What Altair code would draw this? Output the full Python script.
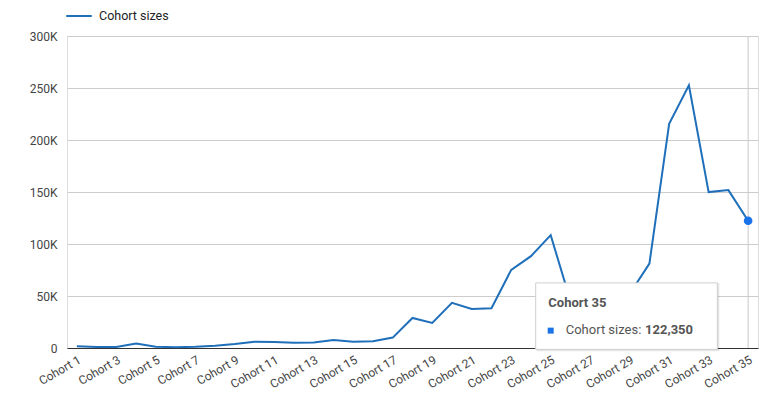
import altair as alt
import pandas as pd

# ---- data ----
cohort_index = list(range(1, 36))
cohort_labels = [f"Cohort {i}" for i in cohort_index]
cohort_sizes = [1800, 1000, 1000, 4200, 1300, 700, 1200, 2200, 3800, 6100,
                5800, 5100, 5400, 7700, 6100, 6400, 10000, 28900, 24100, 43400,
                37600, 38200, 75100, 88300, 108500, 45300, 36000, 40000, 52100, 81200,
                215500, 252500, 149900, 151800, 122350]
series_name = "Cohort sizes"
y_ticks = [0, 25000, 50000, 75000, 100000, 125000, 150000, 175000, 200000,
           225000, 250000, 275000, 300000]
x_label_values = list(range(1, 36, 2))

# hovered item (shown as tooltip in the reference)
hover_idx = 35
hover_label = "Cohort 35"
hover_value = 122350

df = pd.DataFrame({"idx": cohort_index, "cohort": cohort_labels,
                   "value": cohort_sizes, "series": series_name})

BLUE = "#1f6fba"
FONT = "Roboto"

x_scale = alt.Scale(domain=[0.5, 35.5], nice=False, zero=False)
y_scale = alt.Scale(domain=[0, 300000], nice=False)

x_axis = alt.Axis(values=x_label_values, labelExpr="'Cohort ' + datum.value",
                  labelAngle=-30, labelAlign="right", labelBaseline="top",
                  labelPadding=6, ticks=False, grid=False, domain=True,
                  domainColor="#333333", domainWidth=1.2, title=None,
                  labelFont=FONT, labelFontSize=12, labelColor="#444444",
                  labelOverlap=False, labelBound=False, labelFlush=False)
y_axis = alt.Axis(values=y_ticks,
                  labelExpr="datum.value % 50000 == 0 ? (datum.value == 0 ? '0' : format(datum.value/1000, 'd') + 'K') : ''",
                  ticks=False, domain=False, grid=True, gridColor="#cccccc",
                  gridWidth=1, title=None, labelPadding=10,
                  labelFont=FONT, labelFontSize=12, labelColor="#444444")

base = alt.Chart(df)

# vertical hover rule
rule = alt.Chart(pd.DataFrame({"idx": [hover_idx], "y0": [0], "y1": [300000]})).mark_rule(
    color="#c8c8c8", strokeWidth=1
).encode(x=alt.X("idx:Q", scale=x_scale, axis=x_axis),
         y=alt.Y("y0:Q", scale=y_scale, axis=y_axis), y2="y1:Q")

line = base.mark_line(strokeWidth=2).encode(
    x=alt.X("idx:Q", scale=x_scale, axis=x_axis),
    y=alt.Y("value:Q", scale=y_scale, axis=y_axis),
    color=alt.Color("series:N", scale=alt.Scale(range=[BLUE]),
                    legend=alt.Legend(title=None, orient="none", legendX=-2, legendY=-34,
                                      symbolType="stroke", symbolSize=650,
                                      symbolStrokeWidth=2, labelFont=FONT,
                                      labelFontSize=12.5, labelColor="#222222",
                                      labelOffset=6)),
)

hover_df = pd.DataFrame({"idx": [hover_idx], "value": [hover_value]})
point = alt.Chart(hover_df).mark_circle(size=75, color="#1a73e8", opacity=1).encode(
    x=alt.X("idx:Q", scale=x_scale), y=alt.Y("value:Q", scale=y_scale))

# tooltip box (anchored in data space)
box_df = pd.DataFrame({"x0": [24.24], "x1": [33.44], "y0": [-1300], "y1": [62600]})
shadow = alt.Chart(box_df).mark_rect(fill="#000000", opacity=0.10, xOffset=1, yOffset=2,
                                     x2Offset=2, y2Offset=0).encode(
    x=alt.X("x0:Q", scale=x_scale), x2="x1:Q",
    y=alt.Y("y0:Q", scale=y_scale), y2="y1:Q")
box = alt.Chart(box_df).mark_rect(fill="white", stroke="#cfcfcf", strokeWidth=1).encode(
    x=alt.X("x0:Q", scale=x_scale), x2="x1:Q",
    y=alt.Y("y0:Q", scale=y_scale), y2="y1:Q")

title_txt = alt.Chart(pd.DataFrame({"x": [24.88], "y": [43400], "t": [hover_label]})).mark_text(
    align="left", baseline="middle", font=FONT, fontSize=13, fontWeight="bold", color="#555555"
).encode(x=alt.X("x:Q", scale=x_scale), y=alt.Y("y:Q", scale=y_scale), text="t:N")

marker = alt.Chart(pd.DataFrame({"x": [25.0], "y": [16700]})).mark_square(
    size=36, color="#1a73e8", opacity=1).encode(
    x=alt.X("x:Q", scale=x_scale), y=alt.Y("y:Q", scale=y_scale))

name_txt = alt.Chart(pd.DataFrame({"x": [25.76], "y": [16900], "t": [series_name + ":"]})).mark_text(
    align="left", baseline="middle", font=FONT, fontSize=13, color="#555555"
).encode(x=alt.X("x:Q", scale=x_scale), y=alt.Y("y:Q", scale=y_scale), text="t:N")

val_txt = alt.Chart(pd.DataFrame({"x": [29.78], "y": [16900], "t": [f"{hover_value:,}"]})).mark_text(
    align="left", baseline="middle", font=FONT, fontSize=13, fontWeight="bold", color="#555555"
).encode(x=alt.X("x:Q", scale=x_scale), y=alt.Y("y:Q", scale=y_scale), text="t:N")

chart = alt.layer(rule, line, point, shadow, box, title_txt, marker, name_txt, val_txt).properties(
    width=691, height=312,
    autosize=alt.AutoSizeParams(type="none"),
    padding={"left": 59, "top": 28, "right": 15, "bottom": 60},
).configure_view(stroke=None).configure(background="white")

chart.save("out.html", embed_options={"renderer": "svg", "actions": False})
